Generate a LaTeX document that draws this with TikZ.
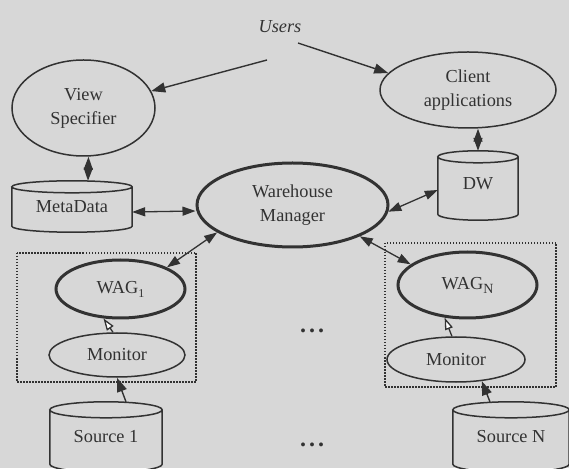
\documentclass[tikz,border=0pt]{standalone}
\usepackage{fontspec}
\setmainfont{Liberation Serif}
\usetikzlibrary{arrows.meta,calc,shapes.geometric}
\definecolor{bg}{RGB}{215,215,215}
\definecolor{ink}{RGB}{50,50,50}
\newcommand{\cylpath}[2]{%
  \draw[cylline] let \p1=(#1.north west), \p2=(#1.south east), \n1={(\x2-\x1)/2} in
    (\x1,{\y1-#2}) -- (\x1,{\y2+#2})
    arc[start angle=180,end angle=360,x radius=\n1,y radius=#2]
    -- (\x2,{\y1-#2})
    arc[start angle=0,end angle=360,x radius=\n1,y radius=#2];}
\begin{document}
\begin{tikzpicture}[x=1pt,y=1pt,
  txt/.style={text=ink, font=\fontsize{18.3}{24}\selectfont, align=center},
  ell/.style={ellipse, draw=ink, line width=1.5pt, inner sep=0pt, txt},
  thickell/.style={ell, line width=3pt},
  cylbox/.style={rectangle, inner sep=0pt, txt},
  cylline/.style={draw=ink, line width=1.5pt},
  dotbox/.style={draw=ink, line width=1.5pt, dash pattern=on 1.5pt off 1.5pt},
  arr/.style={draw=ink, line width=1.4pt, -{Triangle[length=14pt,width=10pt]}},
  dbl/.style={draw=ink, line width=1.3pt, {Triangle[length=13pt,width=9pt]}-{Triangle[length=13pt,width=9pt]}},
  oarr/.style={draw=ink, line width=1.3pt, -{Triangle[open,fill=white,length=12pt,width=8pt]}}]
\fill[bg] (0,0) rectangle (569,468);
\useasboundingbox (0,0) rectangle (569,468);
\clip (0,0) rectangle (569,468);

% dotted group boxes
\draw[dotbox] (17,215) rectangle (196,86);
\draw[dotbox] (385,225) rectangle (556,81);

% nodes
\node[txt, font=\fontsize{18.3}{24}\selectfont\itshape] (users) at (280,441) {Users};
\node[ell, minimum width=143pt, minimum height=96pt] (vs) at (83.5,360) {View\\Specifier};
\node[ell, minimum width=176pt, minimum height=76pt] (ca) at (468,378) {Client\\applications};
\node[thickell, minimum width=191pt, minimum height=84pt] (wm) at (292.5,263) {Warehouse\\Manager};
\node[cylbox, minimum width=120pt, minimum height=51pt] (meta) at (72,261.5) {\raisebox{-5pt}{MetaData}};
\node[cylbox, minimum width=80pt, minimum height=69pt] (dw) at (478,282.5) {\raisebox{3pt}{DW}};
\node[thickell, minimum width=129pt, minimum height=58pt] (wag1) at (120.5,179) {WAG\raisebox{-4pt}{\fontsize{12}{12}\selectfont 1}};
\node[thickell, minimum width=139pt, minimum height=66pt] (wagN) at (467.5,183) {WAG\raisebox{-4pt}{\fontsize{14}{14}\selectfont N}};
\node[ell, minimum width=136pt, minimum height=44pt] (mon1) at (117,113) {Monitor};
\node[ell, minimum width=138pt, minimum height=45pt] (monN) at (456,108.5) {Monitor};
\node[cylbox, minimum width=112pt, minimum height=70pt] (src1) at (106,31) {\raisebox{2pt}{Source 1}};
\node[cylbox, minimum width=116pt, minimum height=70pt] (srcN) at (511,31) {\raisebox{2pt}{Source N}};
\node[txt, font=\fontsize{24}{24}\selectfont\bfseries] (dotsA) at (312,137) {.\hspace{3pt}.\hspace{3pt}.};
\node[txt, font=\fontsize{24}{24}\selectfont\bfseries] (dotsB) at (312,23) {.\hspace{3pt}.\hspace{3pt}.};

% cylinder outlines
\cylpath{meta}{6pt}
\cylpath{dw}{6pt}
\cylpath{src1}{8pt}
\cylpath{srcN}{8pt}

% connectors
\coordinate (u1) at (267,408);
\coordinate (u2) at (298,425);
\draw[arr] (u1) -- (vs.14);
\draw[arr] (u2) -- (ca.168);
\draw[dbl] ([xshift=5pt]vs.south) -- ([xshift=16pt]meta.north);
\draw[dbl] ([xshift=10pt]ca.south) -- (dw.north);
\draw[dbl] ([yshift=-5.5pt]meta.east) -- ([yshift=-6pt]wm.west);
\draw[dbl] (wm.-4) -- ([yshift=-4.5pt]dw.west);
\draw[dbl] (wm.200) -- (wag1.25);
\draw[dbl] (wm.-25) -- (wagN.160);
\draw[oarr] (mon1.100) -- (wag1.240);
\draw[oarr] (monN.100) -- (wagN.235);
\draw[arr] ([xshift=20pt]src1.north) -- (mon1.south);
\draw[arr] ([xshift=-21pt]srcN.north) -- (monN.-40);
\end{tikzpicture}
\end{document}
